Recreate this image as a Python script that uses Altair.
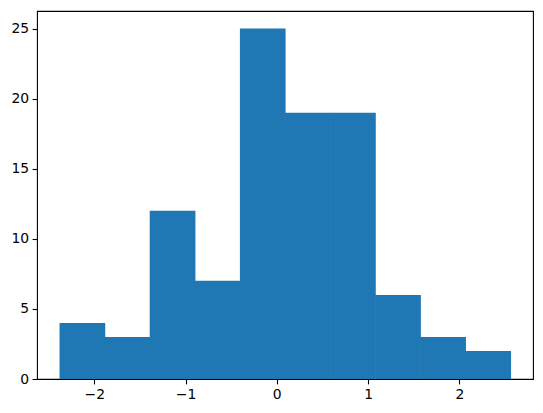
import altair as alt
import pandas as pd

edges = [-2.38, -1.886, -1.392, -0.898, -0.404, 0.09, 0.584, 1.078, 1.572, 2.066, 2.56]
counts = [4, 3, 12, 7, 25, 19, 19, 6, 3, 2]
x_ticks = [-2, -1, 0, 1, 2]
y_ticks = [0, 5, 10, 15, 20, 25]

df = pd.DataFrame({
    "lo": edges[:-1],
    "hi": edges[1:],
    "count": counts,
})

chart = alt.Chart(df).mark_rect(color="#1f77b4", strokeWidth=0, x2Offset=0.6).encode(
    x=alt.X("lo:Q", scale=alt.Scale(domain=[-2.627, 2.807], nice=False, zero=False),
            axis=alt.Axis(values=x_ticks, title=None, grid=False, domain=False,
                          tickSize=4.9, tickWidth=1.1, tickColor="black",
                          labelFont="DejaVu Sans", labelFontSize=13.9, labelColor="black",
                          labelPadding=3.5, format="d")),
    x2="hi:Q",
    y=alt.Y("count:Q", scale=alt.Scale(domain=[0, 26.25], nice=False),
            axis=alt.Axis(values=y_ticks, title=None, grid=False, domain=False,
                          tickSize=4.9, tickWidth=1.1, tickColor="black",
                          labelFont="DejaVu Sans", labelFontSize=13.9, labelColor="black",
                          labelPadding=3.5, format="d")),
    y2=alt.datum(0),
).properties(
    width=496,
    height=368,
    autosize=alt.AutoSizeParams(type="none"),
    padding={"left": 29, "top": 3, "right": 2, "bottom": 26},
).configure_view(
    stroke="black", strokeWidth=1.1
).configure_axis(
    labelFont="DejaVu Sans"
)

chart.save("out.html", embed_options={"renderer": "svg", "actions": False})
